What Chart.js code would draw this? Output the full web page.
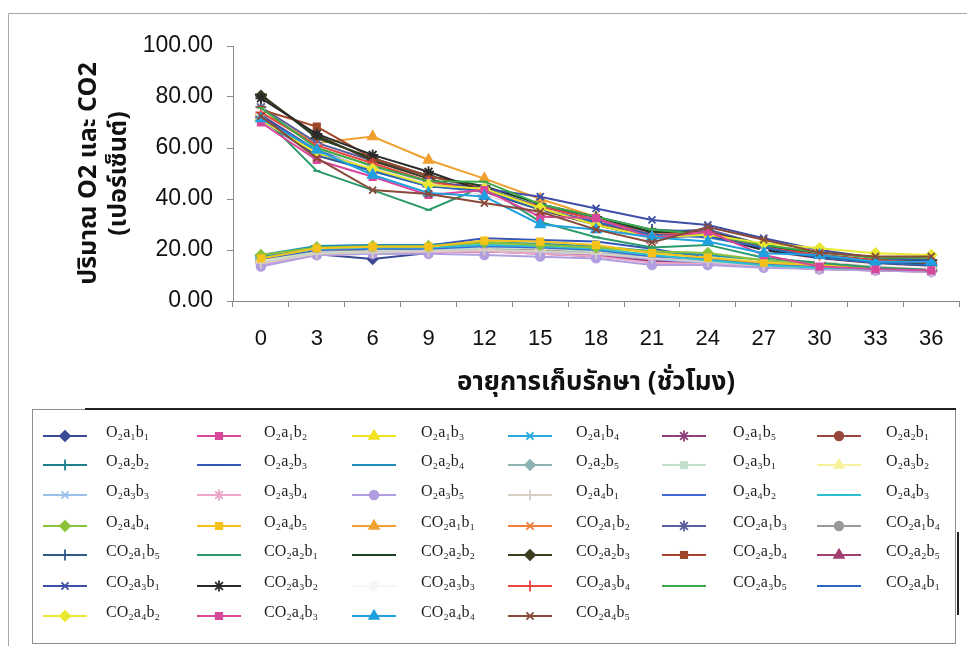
<!DOCTYPE html>
<html>
<head>
<meta charset="utf-8">
<script src="https://cdn.jsdelivr.net/npm/chart.js@4.4.1/dist/chart.umd.min.js"></script>
<style>
  html, body { margin: 0; padding: 0; background: #ffffff; }
  #wrap { width: 967px; height: 647px; }
</style>
</head>
<body>
<div id="wrap"><canvas id="c" width="967" height="647"></canvas></div>
<script>
// Storage time (hours)
const hours = ['0', '3', '6', '9', '12', '15', '18', '21', '24', '27', '30', '33', '36'];
const yTicks = [0, 20, 40, 60, 80, 100];

// O2 (%) per treatment
const O2_a1b1 = [15.0, 18.3, 16.5, 18.8, 20.0, 19.5, 19.0, 17.0, 15.5, 14.0, 13.0, 12.5, 12.0];
const O2_a1b2 = [14.0, 18.5, 19.0, 19.0, 19.5, 19.0, 18.0, 16.0, 15.0, 14.0, 13.0, 12.0, 12.0];
const O2_a1b3 = [17.0, 20.5, 21.0, 21.3, 22.5, 22.0, 21.0, 19.0, 17.0, 16.0, 14.0, 13.0, 13.0];
const O2_a1b4 = [16.0, 19.5, 20.0, 20.0, 21.0, 20.5, 20.0, 17.5, 16.0, 15.0, 13.5, 13.0, 12.5];
const O2_a1b5 = [15.0, 18.5, 18.5, 19.0, 19.5, 18.5, 17.5, 15.5, 14.5, 13.5, 12.5, 12.0, 11.5];
const O2_a2b1 = [16.5, 19.5, 20.0, 20.5, 21.0, 20.0, 19.0, 17.0, 16.0, 14.5, 13.5, 12.5, 12.0];
const O2_a2b2 = [17.5, 21.0, 21.5, 21.5, 22.0, 21.0, 20.0, 18.0, 17.0, 15.0, 14.0, 13.0, 12.5];
const O2_a2b3 = [17.0, 21.5, 21.8, 21.8, 24.6, 23.9, 23.3, 20.5, 17.0, 13.5, 13.0, 12.5, 12.0];
const O2_a2b4 = [18.0, 21.6, 22.0, 22.0, 23.0, 22.5, 21.5, 19.5, 18.0, 16.0, 14.5, 13.5, 13.0];
const O2_a2b5 = [16.0, 19.0, 19.5, 19.5, 20.5, 19.5, 19.0, 17.0, 16.0, 14.5, 13.5, 13.0, 12.5];
const O2_a3b1 = [15.5, 19.0, 19.5, 20.0, 21.0, 20.5, 19.5, 18.0, 17.0, 15.0, 14.0, 13.0, 12.5];
const O2_a3b2 = [16.0, 20.0, 20.5, 21.0, 22.0, 21.0, 20.0, 18.5, 17.0, 15.5, 14.0, 13.5, 13.0];
const O2_a3b3 = [14.5, 18.5, 19.0, 19.5, 20.0, 19.0, 18.5, 16.5, 15.0, 14.0, 13.0, 12.5, 12.0];
const O2_a3b4 = [14.0, 18.0, 18.5, 19.0, 19.5, 18.5, 17.5, 15.0, 14.5, 13.5, 12.5, 12.0, 11.5];
const O2_a3b5 = [13.5, 18.0, 18.5, 18.5, 18.0, 17.4, 16.7, 14.1, 14.1, 13.0, 12.5, 12.0, 11.5];
const O2_a4b1 = [15.0, 18.5, 19.0, 19.5, 20.0, 19.5, 18.5, 17.0, 15.5, 14.0, 13.0, 12.5, 12.0];
const O2_a4b2 = [16.5, 20.0, 20.5, 20.5, 21.5, 21.0, 20.0, 17.5, 16.5, 14.5, 13.5, 13.0, 12.5];
const O2_a4b3 = [17.0, 20.5, 21.0, 21.0, 22.0, 21.5, 20.5, 18.0, 16.0, 14.0, 13.0, 12.5, 12.0];
const O2_a4b4 = [18.0, 21.0, 21.5, 21.5, 23.0, 22.0, 21.0, 19.5, 18.8, 16.0, 14.5, 13.5, 13.0];
const O2_a4b5 = [16.7, 20.7, 21.3, 21.3, 23.7, 23.3, 22.0, 18.8, 17.0, 15.0, 14.0, 13.0, 12.5];

// CO2 (%) per treatment
const CO2_a1b1 = [74.0, 62.0, 64.5, 55.3, 48.0, 40.0, 33.0, 27.0, 27.5, 22.0, 19.0, 17.0, 16.5];
const CO2_a1b2 = [73.0, 60.0, 53.0, 47.0, 44.0, 36.0, 31.0, 26.0, 26.0, 21.0, 17.0, 15.0, 14.5];
const CO2_a1b3 = [76.0, 62.0, 55.0, 49.0, 44.0, 37.0, 32.0, 27.0, 28.0, 22.0, 18.0, 15.0, 14.0];
const CO2_a1b4 = [72.0, 58.0, 52.0, 46.0, 43.0, 35.0, 30.0, 25.0, 25.0, 20.0, 17.0, 15.0, 14.0];
const CO2_a1b5 = [71.0, 57.0, 51.0, 45.0, 44.0, 37.0, 33.0, 28.0, 27.0, 22.0, 18.0, 16.0, 15.0];
const CO2_a2b1 = [73.0, 51.0, 43.5, 35.7, 45.0, 31.0, 25.0, 21.0, 22.0, 17.0, 15.0, 13.0, 12.5];
const CO2_a2b2 = [81.0, 64.0, 56.0, 49.0, 45.0, 38.0, 33.0, 27.0, 27.0, 22.0, 18.0, 16.0, 16.0];
const CO2_a2b3 = [80.5, 65.0, 55.0, 48.0, 42.0, 36.0, 30.0, 24.0, 26.0, 20.0, 17.0, 15.0, 14.5];
const CO2_a2b4 = [75.0, 68.4, 56.0, 49.0, 44.0, 36.0, 31.0, 25.0, 27.0, 21.0, 17.0, 14.0, 13.5];
const CO2_a2b5 = [72.0, 60.0, 52.0, 46.0, 42.0, 35.0, 30.0, 24.0, 26.0, 20.0, 16.0, 14.0, 13.0];
const CO2_a3b1 = [73.0, 59.0, 53.0, 47.0, 44.0, 40.9, 36.3, 31.8, 29.8, 24.6, 20.0, 17.0, 16.0];
const CO2_a3b2 = [79.5, 65.5, 57.3, 50.7, 43.0, 35.0, 30.0, 24.0, 26.0, 20.0, 17.0, 15.0, 14.0];
const CO2_a3b3 = [74.0, 60.0, 52.0, 46.0, 42.0, 35.0, 29.0, 24.0, 25.0, 19.0, 16.0, 14.0, 13.0];
const CO2_a3b4 = [74.0, 61.0, 54.0, 47.0, 43.0, 37.0, 32.0, 26.0, 27.0, 21.0, 18.0, 16.0, 15.0];
const CO2_a3b5 = [75.7, 60.0, 53.0, 47.0, 46.8, 38.0, 33.0, 28.0, 26.0, 22.0, 19.0, 17.0, 17.0];
const CO2_a4b1 = [72.0, 58.0, 51.0, 45.0, 43.0, 36.0, 31.0, 26.0, 25.0, 21.0, 17.0, 15.0, 14.0];
const CO2_a4b2 = [71.0, 58.0, 51.8, 45.5, 44.0, 36.5, 29.8, 25.0, 26.0, 22.6, 20.7, 18.7, 18.0];
const CO2_a4b3 = [70.0, 55.3, 48.7, 41.6, 43.5, 33.0, 32.5, 24.7, 27.2, 18.0, 13.5, 12.5, 12.0];
const CO2_a4b4 = [71.5, 59.2, 49.4, 42.4, 41.0, 30.0, 28.0, 25.0, 23.3, 18.7, 18.0, 15.4, 15.4];
const CO2_a4b5 = [72.5, 56.0, 43.5, 42.0, 38.4, 35.0, 28.0, 23.0, 29.0, 24.0, 19.0, 17.5, 17.5];

// Series names (legend order)
const seriesNames = [
  'O₂a₁b₁', 'O₂a₁b₂', 'O₂a₁b₃', 'O₂a₁b₄', 'O₂a₁b₅',
  'O₂a₂b₁', 'O₂a₂b₂', 'O₂a₂b₃', 'O₂a₂b₄', 'O₂a₂b₅',
  'O₂a₃b₁', 'O₂a₃b₂', 'O₂a₃b₃', 'O₂a₃b₄', 'O₂a₃b₅',
  'O₂a₄b₁', 'O₂a₄b₂', 'O₂a₄b₃', 'O₂a₄b₄', 'O₂a₄b₅',
  'CO₂a₁b₁', 'CO₂a₁b₂', 'CO₂a₁b₃', 'CO₂a₁b₄', 'CO₂a₁b₅',
  'CO₂a₂b₁', 'CO₂a₂b₂', 'CO₂a₂b₃', 'CO₂a₂b₄', 'CO₂a₂b₅',
  'CO₂a₃b₁', 'CO₂a₃b₂', 'CO₂a₃b₃', 'CO₂a₃b₄', 'CO₂a₃b₅',
  'CO₂a₄b₁', 'CO₂a₄b₂', 'CO₂a₄b₃', 'CO₂a₄b₄', 'CO₂a₄b₅'
];
const seriesValues = [
  O2_a1b1, O2_a1b2, O2_a1b3, O2_a1b4, O2_a1b5,
  O2_a2b1, O2_a2b2, O2_a2b3, O2_a2b4, O2_a2b5,
  O2_a3b1, O2_a3b2, O2_a3b3, O2_a3b4, O2_a3b5,
  O2_a4b1, O2_a4b2, O2_a4b3, O2_a4b4, O2_a4b5,
  CO2_a1b1, CO2_a1b2, CO2_a1b3, CO2_a1b4, CO2_a1b5,
  CO2_a2b1, CO2_a2b2, CO2_a2b3, CO2_a2b4, CO2_a2b5,
  CO2_a3b1, CO2_a3b2, CO2_a3b3, CO2_a3b4, CO2_a3b5,
  CO2_a4b1, CO2_a4b2, CO2_a4b3, CO2_a4b4, CO2_a4b5
];

// Line colours, one per series
const seriesColors = [
  '#3b4a94', '#d9479a', '#f2e21e', '#27a9df', '#8c3f78',
  '#99473c', '#1f7f8c', '#3456b8', '#1f8fb8', '#8fb3b3',
  '#c2e0cc', '#f7f29a', '#9cc0ec', '#eba6c8', '#b09ee0',
  '#d8cfc4', '#3f67d8', '#2fbfcf', '#8cc23a', '#f4c21a',
  '#f0a030', '#f0803a', '#5a5fa0', '#9a9a9a', '#2f5a8a',
  '#2a9a6a', '#1f3f22', '#3d3d22', '#a0462a', '#a04070',
  '#3f4fa8', '#2a2a2a', '#f6f6f6', '#e8463f', '#3aaa4a',
  '#2a68c0', '#e8e830', '#d8489a', '#1fa0e0', '#8a4a3a'
];

// Marker cycle: diamond, square, triangle, x, asterisk, circle, plus, short dash, long dash
const markerStyles = ['rectRot', 'rect', 'triangle', 'crossRot', 'star', 'circle', 'cross', 'line', 'line'];
const markerRadius = [5, 4.5, 5.5, 5, 5.5, 4.3, 5.5, 3.5, 6];

const datasets = seriesValues.map((vals, i) => {
  const m = i % markerStyles.length;
  return {
    label: seriesNames[i],
    data: vals,
    borderColor: seriesColors[i],
    backgroundColor: seriesColors[i],
    pointBackgroundColor: seriesColors[i],
    pointBorderColor: seriesColors[i],
    pointStyle: markerStyles[m],
    pointRadius: markerRadius[m],
    pointBorderWidth: 1.8,
    borderWidth: 2,
    tension: 0,
    fill: false,
    order: -i
  };
});

// Frame lines and white background
const framePlugin = {
  id: 'frame',
  beforeDraw(chart) {
    const ctx = chart.ctx;
    ctx.save();
    ctx.fillStyle = '#ffffff';
    ctx.fillRect(0, 0, chart.width, chart.height);
    ctx.strokeStyle = '#a8a8a8';
    ctx.lineWidth = 1;
    ctx.beginPath();
    ctx.moveTo(8.5, 646);
    ctx.lineTo(8.5, 13.5);
    ctx.lineTo(967, 13.5);
    ctx.stroke();
    ctx.restore();
  }
};

// Six-column legend box below the plot
const legendCols = [43, 197, 352, 508, 662, 817];
const legendTextX = [106, 264, 421, 576, 733, 886];
const legendRows = [436, 465, 495, 526, 555, 586, 616];
const gridLegend = {
  id: 'gridLegend',
  afterDraw(chart) {
    const ctx = chart.ctx;
    ctx.save();
    ctx.strokeStyle = '#8c8c8c';
    ctx.lineWidth = 1;
    ctx.strokeRect(32.5, 409.5, 923, 234);
    ctx.strokeStyle = '#222222';
    ctx.lineWidth = 2;
    ctx.beginPath();
    ctx.moveTo(85, 409);
    ctx.lineTo(956, 409);
    ctx.stroke();
    ctx.beginPath();
    ctx.moveTo(958, 532);
    ctx.lineTo(958, 615);
    ctx.stroke();

    chart.data.datasets.forEach((ds, i) => {
      const col = i % 6, row = Math.floor(i / 6);
      const x0 = legendCols[col], y = legendRows[row];
      ctx.strokeStyle = ds.borderColor;
      ctx.fillStyle = ds.borderColor;
      ctx.lineWidth = 2;
      ctx.beginPath();
      ctx.moveTo(x0, y);
      ctx.lineTo(x0 + 44, y);
      ctx.stroke();
      ctx.lineWidth = 1.8;
      Chart.helpers.drawPoint(ctx, {
        pointStyle: ds.pointStyle,
        radius: ds.pointRadius,
        borderWidth: 1.8,
        rotation: 0
      }, x0 + 22, y);
      ctx.fillStyle = '#1e1e1e';
      ctx.font = '16px "Liberation Serif", "Times New Roman", serif';
      ctx.textAlign = 'left';
      ctx.textBaseline = 'middle';
      ctx.fillText(ds.label, legendTextX[col], y - 3);
    });
    ctx.restore();
  }
};

const thaiFont = '"Noto Sans Thai", "Noto Sans Thai UI", "Liberation Sans", Arial, sans-serif';

new Chart(document.getElementById('c'), {
  type: 'line',
  data: { labels: hours, datasets: datasets },
  plugins: [framePlugin, gridLegend],
  options: {
    responsive: false,
    animation: false,
    events: [],
    layout: { padding: { top: 46, left: 0, right: 7, bottom: 246 } },
    plugins: {
      legend: { display: false },
      tooltip: { enabled: false }
    },
    scales: {
      x: {
        type: 'category',
        offset: true,
        afterFit: (s) => { s.height = 100; },
        grid: {
          offset: true,
          drawOnChartArea: false,
          drawTicks: true,
          tickLength: 6,
          color: '#8a8a8a'
        },
        border: { display: true, color: '#8a8a8a', width: 1 },
        ticks: {
          padding: 19,
          color: '#111111',
          font: { family: '"Liberation Sans", Arial, sans-serif', size: 22 },
          maxRotation: 0,
          autoSkip: false
        },
        title: {
          display: true,
          text: 'อายุการเก็บรักษา (ชั่วโมง)',
          color: '#111111',
          font: { family: thaiFont, size: 26, weight: 'bold', lineHeight: 1.2 },
          padding: { top: 0, bottom: 1 }
        }
      },
      y: {
        min: 0,
        max: 100,
        afterFit: (s) => { s.width = 233; },
        afterBuildTicks: (s) => { s.ticks = yTicks.map(v => ({ value: v })); },
        grid: {
          drawOnChartArea: false,
          drawTicks: true,
          tickLength: 6,
          color: '#8a8a8a'
        },
        border: { display: true, color: '#8a8a8a', width: 1 },
        ticks: {
          padding: 14,
          color: '#111111',
          font: { family: '"Liberation Sans", Arial, sans-serif', size: 23 },
          callback: (v) => Number(v).toFixed(2)
        },
        title: {
          display: true,
          text: ['ปริมาณ O2 และ CO2', '(เปอร์เซ็นต์)'],
          color: '#111111',
          font: { family: thaiFont, size: 25, weight: 'bold', lineHeight: 1.2 },
          padding: { top: 76, bottom: 0 }
        }
      }
    }
  }
});
</script>
</body>
</html>
